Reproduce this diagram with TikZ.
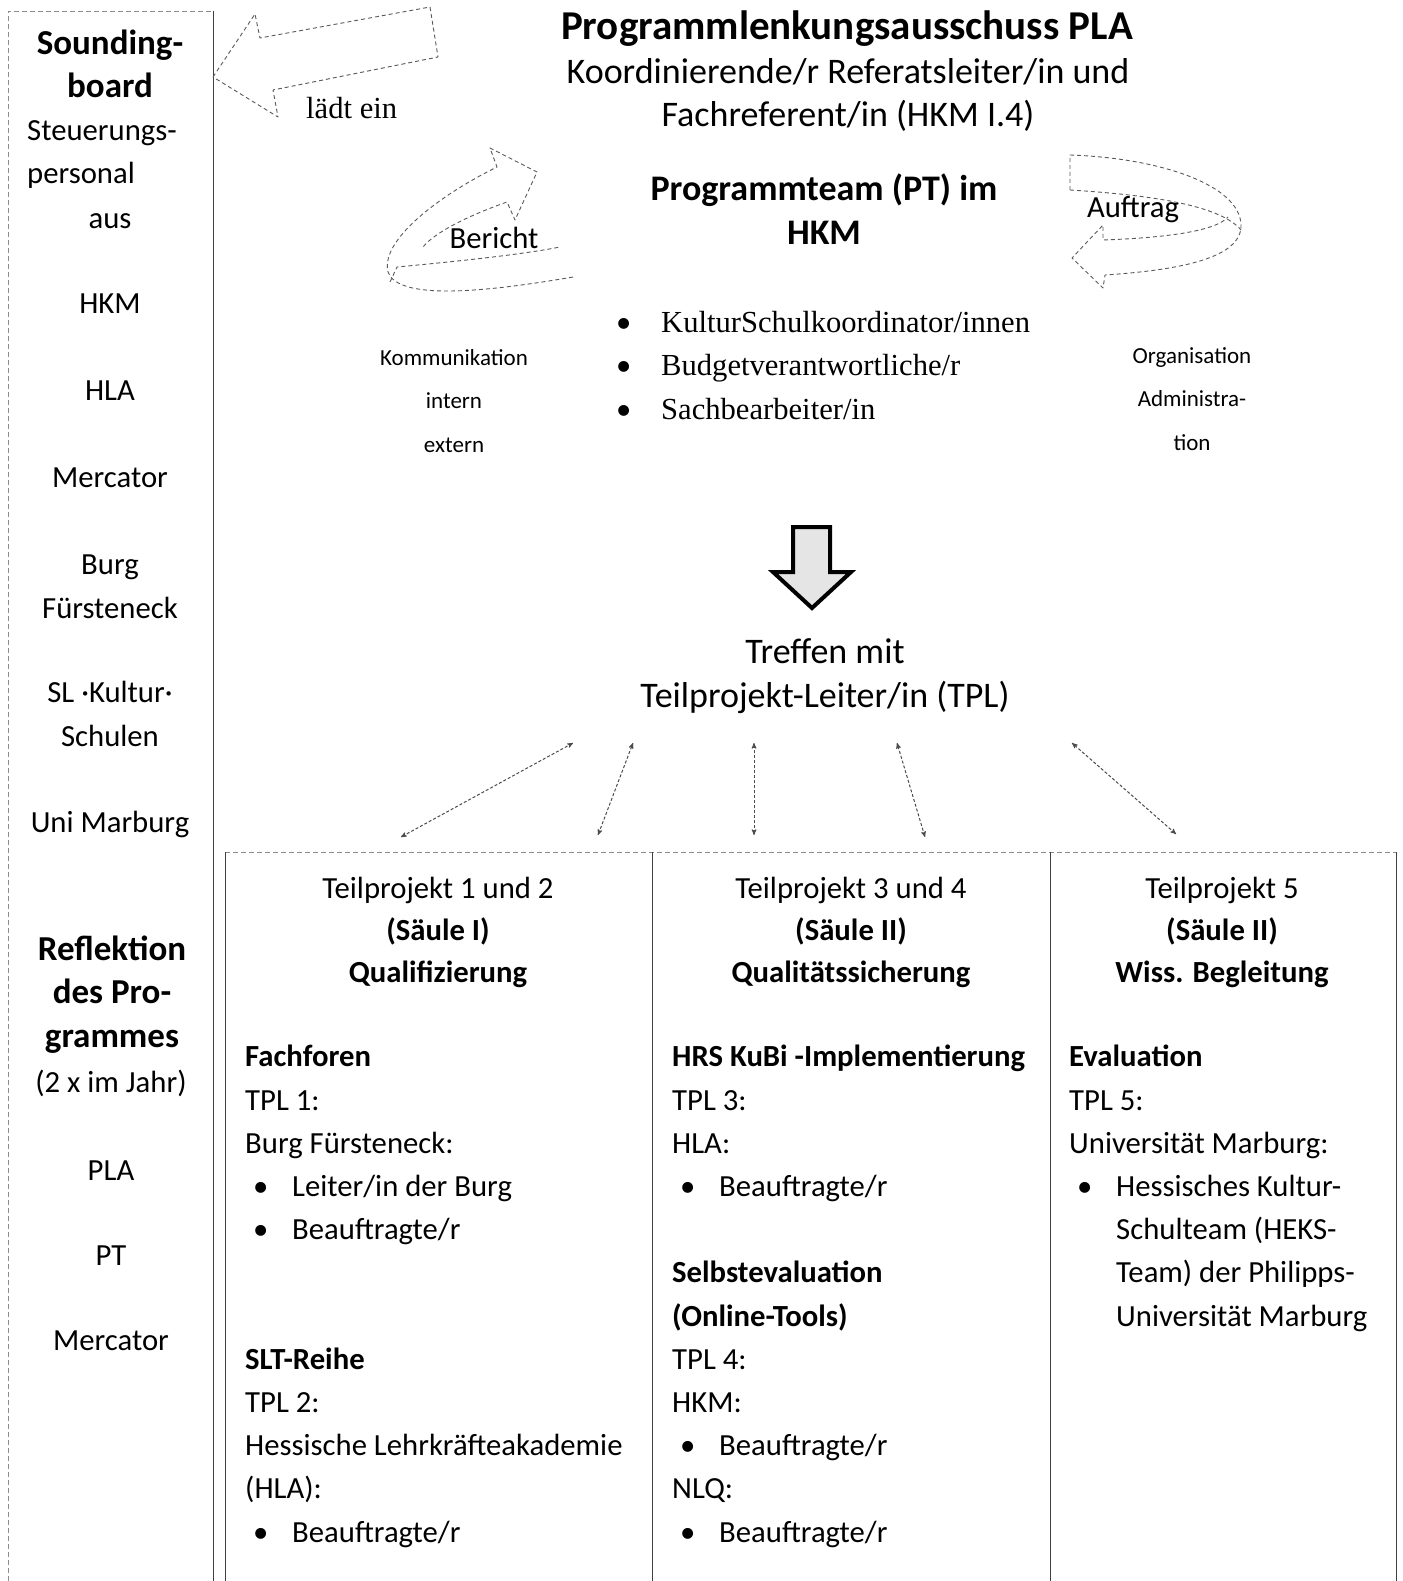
\documentclass[tikz,border=0pt]{standalone}
\usepackage{fontspec}
\setmainfont{Carlito}
\newfontfamily\seriffont{Liberation Serif}
\usetikzlibrary{arrows}
\newcommand{\bul}{\hspace*{8pt}\makebox[39pt][l]{•}}
\newcommand{\ind}{\hspace*{47pt}}
\newcommand{\sbul}{\makebox[45pt][l]{\normalfont •}}
\tikzset{
	txt/.style = {
		inner sep=0pt,
		anchor=base,
		align=center,
		font=\fontsize{30.7}{43.2}\selectfont
	},
	txt_left/.style = {
		txt,
		anchor=base west,
		align=left
	},
	txt_bold/.style = {
		txt,
		font=\fontsize{35}{43.2}\selectfont\bfseries
	},
	txt_big/.style = {
		txt,
		font=\fontsize{36}{43.2}\selectfont
	},
	txt_small/.style = {
		txt,
		font=\fontsize{23}{43.2}\selectfont
	},
	txt_serif/.style = {
		txt_left,
		font=\fontsize{30.6}{43.2}\selectfont\seriffont
	},
	txt_col/.style = {
		txt,
		font=\fontsize{30.7}{42}\selectfont
	},
	box_line/.style = {
		draw=black!75,
		line width=1pt
	},
	box_faint/.style = {
		draw=black!45,
		line width=0.8pt,
		dash pattern=on 5pt off 3pt
	},
	hollow_arrow/.style = {
		draw=black!65,
		line width=0.9pt,
		dash pattern=on 4pt off 3pt,
		line join=round
	},
	tpl_arrow/.style = {
		<->,
		draw=black!70,
		line width=1pt,
		densely dashed
	}
}
\begin{document}
\begin{tikzpicture}[x=1pt, y=-1pt, >=stealth']
\useasboundingbox (0,0) rectangle (1402,1581);
% soundingboard column (multi-line nodes sit on their last baseline)
\draw[box_faint] (8,1581) -- (8,11) -- (213,11);
\draw[box_line] (213,11) -- (213,1581);
\node [txt_bold] (sb1) at (110,55) {Sounding-};
\node [txt_bold] (sb2) at (110,98) {board};
\node [txt_left] (steu) at (27,141) {Steuerungs-};
\node [txt_left] (pers) at (27,184) {personal};
\node [txt] (aus) at (110,228) {aus};
\node [txt] (sb_hkm) at (110,313) {HKM};
\node [txt] (sb_hla) at (110,400) {HLA};
\node [txt] (sb_merc) at (110,487) {Mercator};
\node [txt] (sb_burg) at (110,618) {Burg\\Fürsteneck};
\node [txt] (sb_sl) at (110,746) {SL ·Kultur·\\Schulen};
\node [txt] (sb_uni) at (110,832) {Uni Marburg};
\node [txt_bold] (refl) at (112,1047) {Reflektion\\des Pro-\\grammes};
\node [txt] (jahr) at (111,1092) {(2 x im Jahr)};
\node [txt] (r_pla) at (111,1180) {PLA};
\node [txt] (r_pt) at (111,1265) {PT};
\node [txt] (r_merc) at (111,1350) {Mercator};
% lenkungsausschuss and programmteam
\node [txt, font=\fontsize{41}{43.2}\selectfont\bfseries] (pla) at (847,40) {Programmlenkungsausschuss PLA};
\node [txt, font=\fontsize{36}{43}\selectfont] (koord) at (848,127) {Koordinierende/r Referatsleiter/in und\\Fachreferent/in (HKM I.4)};
\node [txt, font=\fontsize{36}{43.2}\selectfont\bfseries] (pt) at (824,244) {Programmteam (PT) im\\HKM};
\node [txt_serif] (pt_list) at (616,419) {\sbul KulturSchulkoordinator/innen\\\sbul Budgetverantwortliche/r\\\sbul Sachbearbeiter/in};
\node [txt_serif] (laedt) at (306,119) {lädt ein};
\node [txt_small] (komm) at (454,452) {Kommunikation\\intern\\extern};
\node [txt_small] (orga) at (1192,450) {Organisation\\Administra-\\tion};
\node [txt] (bericht) at (494,248) {Bericht};
\node [txt] (auftrag) at (1133,217) {Auftrag};
% hollow arrows
\draw[hollow_arrow] (213,77) -- (255,14) -- (260,38) -- (430,7) -- (438,57) -- (273,90) -- (278,117) -- cycle;
\draw[hollow_arrow] (573,277) .. controls (480,293) and (398,300) .. (388,272) .. controls (380,240) and (440,195) .. (497,167) -- (490,148) -- (537,172) -- (515,220) -- (507,202) .. controls (470,215) and (435,232) .. (423,247);
\draw[hollow_arrow] (390,282) -- (397,267) .. controls (450,262) and (520,255) .. (560,247);
\draw[hollow_arrow] (1070,190) -- (1070,155) .. controls (1160,158) and (1240,185) .. (1241,225) .. controls (1242,258) and (1180,270) .. (1105,275) -- (1103,288) -- (1072,258) -- (1103,225) -- (1103,240) .. controls (1160,238) and (1215,232) .. (1228,217);
\draw[hollow_arrow] (1070,190) .. controls (1150,195) and (1220,205) .. (1241,230);
% down arrow
\draw[line width=4pt, line join=miter, fill=gray!20] (793,527) -- (830,527) -- (830,572) -- (851,572) -- (812,608) -- (773,572) -- (793,572) -- cycle;
\node [txt_big] (tpl) at (825,707) {Treffen mit\\Teilprojekt-Leiter/in (TPL)};
% connectors to the teilprojekte
\coordinate (c1a) at (401,837); \coordinate (c1b) at (573,743);
\coordinate (c2a) at (598,835); \coordinate (c2b) at (633,743);
\coordinate (c3a) at (754,835); \coordinate (c3b) at (754,743);
\coordinate (c4a) at (925,837); \coordinate (c4b) at (897,743);
\coordinate (c5a) at (1176,834); \coordinate (c5b) at (1072,743);
\draw[tpl_arrow] (c1a) -- (c1b);
\draw[tpl_arrow] (c2a) -- (c2b);
\draw[tpl_arrow] (c3a) -- (c3b);
\draw[tpl_arrow] (c4a) -- (c4b);
\draw[tpl_arrow] (c5a) -- (c5b);
% teilprojekt table
\draw[box_faint] (225,852) -- (1396,852);
\draw[box_line] (225,852) -- (225,1581);
\draw[box_line] (652,852) -- (652,1581);
\draw[box_line] (1050,852) -- (1050,1581);
\draw[box_line] (1396,852) -- (1396,1581);
\node [txt_col] (tp12) at (438,982) {Teilprojekt 1 und 2\\\textbf{(Säule I)}\\\textbf{Qualifizierung}};
\node [txt_col] (tp34) at (851,982) {Teilprojekt 3 und 4\\\textbf{(Säule II)}\\\textbf{Qualitätssicherung}};
\node [txt_col] (tp5) at (1222,982) {Teilprojekt 5\\\textbf{(Säule II)}\\\textbf{Wiss. Begleitung}};
\node [txt_left] (tp12_body) at (245,1542) {\textbf{Fachforen}\\TPL 1:\\Burg Fürsteneck:\\\bul Leiter/in der Burg\\\bul Beauftragte/r\\[86.4pt]\textbf{SLT-Reihe}\\TPL 2:\\Hessische Lehrkräfteakademie\\(HLA):\\\bul Beauftragte/r};
\node [txt_left] (tp34_body) at (672,1542) {\textbf{HRS KuBi -Implementierung}\\TPL 3:\\HLA:\\\bul Beauftragte/r\\[43.2pt]\textbf{Selbstevaluation}\\\textbf{(Online-Tools)}\\TPL 4:\\HKM:\\\bul Beauftragte/r\\NLQ:\\\bul Beauftragte/r};
\node [txt_left] (tp5_body) at (1069,1326) {\textbf{Evaluation}\\TPL 5:\\Universität Marburg:\\\bul Hessisches Kultur-\\\ind Schulteam (HEKS-\\\ind Team) der Philipps-\\\ind Universität Marburg};
\end{tikzpicture}
\end{document}
